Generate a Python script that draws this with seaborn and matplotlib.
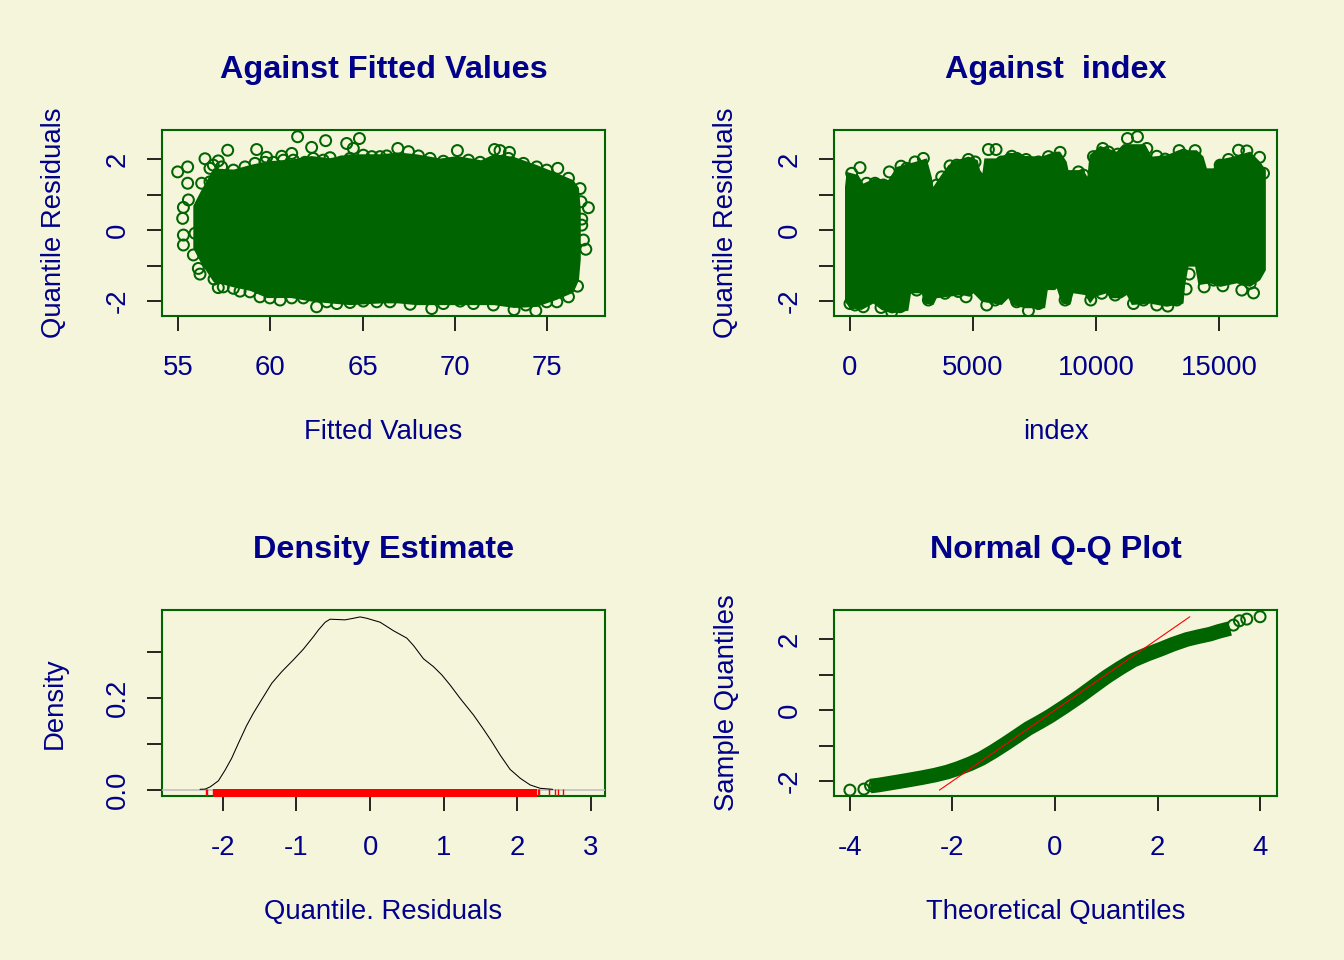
import numpy as np
import pandas as pd
import matplotlib
matplotlib.use("Agg")
import matplotlib.pyplot as plt
import seaborn as sns

# fitted panel: outline of the solid mass, then the circles on and around its rim
fit_top_x = [55.8, 56.2, 56.9, 58.0, 58.9, 59.8, 61.1, 62.2, 63.2, 64.3, 66.0, 66.9, 67.9, 69.2, 70.1,
             71.4, 72.1, 73.2, 74.4, 75.5, 76.4, 76.7, 76.8]
fit_top_y = [0.7, 1.1, 1.75, 1.72, 1.85, 1.95, 2.0, 2.1, 2.04, 2.15, 2.15, 2.2, 2.15, 2.03, 2.1,
             1.98, 2.15, 2.07, 1.85, 1.62, 1.42, 1.2, 0.6]
fit_low_y = [-0.5, -0.9, -1.45, -1.6, -1.7, -1.9, -1.9, -2.0, -2.05, -2.1, -2.05, -2.05, -2.1, -2.1, -2.1,
             -2.1, -2.1, -2.18, -2.15, -1.95, -1.75, -1.4, -0.8]
fit_pts_x = [61.48, 63.0, 64.14, 64.83, 57.69, 59.26, 56.46, 55.52, 54.98, 62.24, 64.5, 56.73, 55.52, 56.28, 56.73,
             55.56, 55.29, 55.25, 55.29, 55.29, 55.83, 56.1, 56.19, 56.95, 57.18, 58.36, 62.51, 61.16, 59.8, 60.62,
             57.18, 55.92, 66.91, 67.49, 70.14, 72.15, 72.45, 72.96, 75.58, 76.79, 76.84, 77.24, 76.88, 76.88, 76.97,
             77.1, 76.65, 76.16, 75.53, 73.21, 74.39, 73.85, 72.09, 68.75,
             56.91, 57.36, 58.0, 58.63, 59.17, 59.71, 60.16, 60.71, 61.25, 61.88, 62.33, 62.87, 63.24, 63.87, 64.32,
             65.04, 65.5, 65.95, 66.31, 68.03, 68.66, 69.38, 70.74, 71.37, 72.91, 73.72, 74.44, 74.98, 76.16,
             57.45, 58.0, 58.9, 59.44, 59.98, 60.53, 61.16, 61.79, 63.06, 63.6, 64.32, 65.04, 65.77, 66.49, 67.58,
             69.38, 70.29, 71.01, 74.98]
fit_pts_y = [2.63, 2.52, 2.44, 2.58, 2.25, 2.27, 2.01, 1.78, 1.64, 2.33, 2.30, 1.74, 1.32, 1.32, 1.36,
             0.85, 0.64, 0.33, -0.14, -0.42, -0.70, -1.08, -1.24, -1.38, -1.62, -1.72, -2.16, 2.16, 2.05, 2.08,
             1.95, -0.09, 2.30, 2.21, 2.24, 2.27, 2.24, 2.19, 1.74, 1.17, 0.80, 0.63, 0.31, 0.14, -0.28,
             -0.54, -1.58, -1.88, -2.02, -2.24, -2.27, -2.11, -2.11, -2.21,
             1.83, 1.78, 1.69, 1.78, 1.88, 1.91, 1.91, 1.97, 1.97, 1.91, 2.02, 1.97, 2.04, 1.92, 2.02,
             2.11, 2.07, 2.07, 2.09, 2.09, 2.02, 1.94, 1.97, 1.91, 2.02, 1.88, 1.78, 1.69, 1.46,
             -1.60, -1.64, -1.74, -1.88, -1.91, -1.97, -1.91, -1.91, -2.02, -2.07, -2.04, -2.0, -2.02, -2.02, -2.09,
             -2.07, -2.0, -2.07, -2.02]

# index panel
idx_top_x = [-203, -135, 339, 542, 1016, 1559, 1897, 2642, 3117, 3320, 3388, 3659, 3998, 4336, 4811, 5190, 5285,
             5380, 5461, 6030, 6437, 6843, 7114, 7792, 8334, 8537, 8807, 8875, 9485, 9648, 9729, 10162, 10840,
             11003, 11111, 11992, 12263, 12873, 13347, 14092, 14363, 14499, 14770, 14905, 15583, 16260, 16667, 16897]
idx_top_y = [1.22, 1.64, 1.55, 1.31, 1.46, 1.41, 1.78, 1.92, 2.02, 1.50, 1.22, 1.50, 1.83, 1.97, 2.07, 1.97, 1.69,
             1.60, 2.02, 2.02, 2.18, 2.16, 2.09, 2.07, 2.21, 2.21, 1.92, 1.69, 1.69, 1.50, 2.11, 2.37, 2.21,
             2.35, 2.42, 2.42, 2.07, 2.11, 2.25, 2.25, 2.07, 1.74, 1.74, 1.97, 2.07, 2.21, 1.92, 1.69]
idx_low_x = [-203, 0, 475, 949, 1288, 1694, 2371, 2480, 2914, 3008, 3388, 3523, 4540, 4878, 5014, 5353, 6166, 6437,
             6572, 7114, 7927, 8035, 8334, 8401, 8604, 8943, 9079, 9553, 9756, 9959, 10434, 10569, 11043, 11246,
             11450, 12195, 12873, 13550, 13618, 13753, 14024, 14160, 14634, 15041, 15718, 16260, 16667, 16897]
idx_low_y = [-2.02, -2.2, -2.25, -2.07, -2.25, -2.35, -2.27, -1.78, -1.78, -2.07, -2.11, -1.92, -1.83, -1.88, -1.78,
             -2.02, -2.11, -1.92, -2.11, -2.2, -2.2, -1.69, -1.69, -1.64, -2.07, -2.11, -1.78, -1.83, -2.07, -1.88,
             -1.78, -1.92, -1.92, -1.83, -2.11, -2.07, -2.16, -2.07, -1.55, -1.03, -1.03, -1.55, -1.50, -1.60, -1.50,
             -1.60, -1.41, -1.13]
idx_pts_x = [407, 68, 1599, 2073, 2981, 2642, 4065, 3727, 3523, 5624, 5935, 4811, 6572, 7155, 7250, 5556, 4716, 1694,
             1260, 542, 0, 2710, 11680, 11274, 8537, 9282, 10271, 10881, 12466, 13374, 14024, 15786, 16125, 16640,
             15379, 13780, 13658, 14390, 15149, 15921, 16395, 9783, 11518, 12466, 12913, 10230,
             678, 1016, 1355, 2304, 4336, 5082, 6166, 6775, 7656, 8063, 9485, 9892, 10501, 12060, 12805, 13550,
             15041, 16802, 204, 2033, 3185, 3862, 4404, 5895, 6775, 7656, 8740, 10772, 11924, 13279, 14770, 16260]
idx_pts_y = [1.76, 1.6, 1.64, 1.80, 2.02, 1.92, 1.81, 1.50, 1.27, 2.27, 2.27, 1.99, 2.08, 1.99, -2.27, -2.11, -1.88,
             -2.30, -2.18, -2.16, -2.07, -1.69, 2.63, 2.58, 2.19, 1.64, 2.30, 2.14, 2.08, 2.24, 2.24, 2.25, 2.23, 2.05,
             1.99, -1.24, -1.66, -1.60, -1.57, -1.69, -1.77, -1.97, -2.07, -2.11, -2.14, -1.78,
             1.32, 1.32, 1.27, 1.74, 1.83, 1.92, 1.92, 2.02, 1.92, 2.07, 1.55, 2.07, 2.2, 2.30, 2.0, 2.11,
             1.83, 1.60, -2.11, -2.16, -1.97, -1.78, -1.73, -1.97, -2.02, -2.07, -1.97, -1.83, -1.97, -1.97, -1.41, -1.50]

# density panel
dens_x = [-2.31, -2.24, -2.17, -2.06, -1.97, -1.88, -1.79, -1.68, -1.585, -1.47, -1.335, -1.20, -1.04, -0.906, -0.77,
          -0.70, -0.61, -0.543, -0.34, -0.227, -0.136, -0.045, 0.136, 0.317, 0.498, 0.589, 0.725, 0.86, 0.974, 1.087,
          1.223, 1.404, 1.54, 1.653, 1.766, 1.90, 2.04, 2.174, 2.31, 2.48]
dens_y = [0.0015, 0.002, 0.007, 0.020, 0.043, 0.069, 0.101, 0.139, 0.167, 0.197, 0.232, 0.257, 0.283, 0.306, 0.333,
          0.348, 0.3645, 0.371, 0.3696, 0.373, 0.376, 0.373, 0.3645, 0.346, 0.330, 0.314, 0.285, 0.268, 0.25, 0.228,
          0.199, 0.163, 0.132, 0.105, 0.076, 0.045, 0.0254, 0.011, 0.0037, 0.0015]
rug_body = [-2.128, 2.265]
rug_ticks = [-2.232, -2.21, -2.137, 2.278, 2.30, 2.423, 2.505, 2.546, 2.613]

# qq panel
qq_x = [-3.6, -3.448, -3.1, -2.862, -2.6, -2.34, -2.1, -1.886, -1.65, -1.431, -1.2, -0.976, -0.75, -0.52, -0.3, -0.098,
        0.2, 0.488, 0.75, 1.008, 1.27, 1.528, 1.8, 2.049, 2.3, 2.57, 2.8, 3.024, 3.2, 3.415]
qq_y = [-2.14, -2.113, -2.03, -1.972, -1.905, -1.831, -1.745, -1.643, -1.51, -1.362, -1.165, -0.958, -0.74, -0.516,
        -0.34, -0.17, 0.11, 0.394, 0.67, 0.94, 1.185, 1.408, 1.575, 1.709, 1.855, 1.99, 2.07, 2.14, 2.22, 2.30]
qq_pts_x = [-4.0, -3.727, -3.597, -3.512, -3.415, 3.48, 3.597, 3.74, 4.0]
qq_pts_y = [-2.254, -2.225, -2.132, -2.12, -2.094, 2.394, 2.516, 2.563, 2.63]
qq_ref = [-2.254, 2.63]

BG = "#F5F5DC"
GREEN = "#006400"
BLUE = "#00008B"

sns.set_theme(style="ticks", rc={"figure.facecolor": BG, "axes.facecolor": BG, "savefig.facecolor": BG})
plt.rcParams["font.family"] = ["Liberation Sans", "DejaVu Sans"]

W, H = 1344, 960
fig = plt.figure(figsize=(W / 100, H / 100), dpi=100)


def panel(x0, x1, y0, y1, xlim, ylim, title, xlabel, ylabel, xticks, yticks, ylabels):
    ax = fig.add_axes([x0 / W, 1 - y1 / H, (x1 - x0) / W, (y1 - y0) / H])
    ax.set_xlim(xlim)
    ax.set_ylim(ylim)
    ax.set_xticks(xticks)
    ax.set_xticklabels([str(t) for t in xticks])
    ax.set_yticks(yticks)
    ax.set_yticklabels(ylabels, rotation=90, va="center")
    ax.tick_params(length=10.5, width=1.2, color="black", labelcolor=BLUE, labelsize=19.8)
    ax.tick_params(axis="x", pad=17.3)
    ax.tick_params(axis="y", pad=12)
    for s in ax.spines.values():
        s.set_color(GREEN)
        s.set_linewidth(1.5)
    ax.set_title(title, color=BLUE, fontsize=23.3, fontweight="bold", pad=0, y=1.28)
    ax.set_xlabel(xlabel, color=BLUE, fontsize=19.8)
    ax.set_ylabel(ylabel, color=BLUE, fontsize=19.8)
    ax.xaxis.set_label_coords(0.5, -0.555)
    ax.yaxis.set_label_coords(-94.5 / (x1 - x0), 0.5)
    return ax


def rings(ax, x, y):
    sns.scatterplot(x=x, y=y, ax=ax, s=62, marker="o", facecolor="none", edgecolor=GREEN, linewidth=1.45,
                    zorder=3)


res_ticks = [-2, -1, 0, 1, 2]
res_labels = ["-2", "", "0", "", "2"]

ax1 = panel(162, 605, 130, 316, (54.13, 78.14), (-2.42, 2.82), "Against Fitted Values", "Fitted Values",
            "Quantile Residuals", [55, 60, 65, 70, 75], res_ticks, res_labels)
ax1.fill_between(fit_top_x, fit_low_y, fit_top_y, color=GREEN, lw=0)
rings(ax1, fit_pts_x, fit_pts_y)

ax2 = panel(834, 1277, 130, 316, (-650, 17350), (-2.42, 2.82), "Against  index", "index",
            "Quantile Residuals", [0, 5000, 10000, 15000], res_ticks, res_labels)
ax2.fill(idx_top_x + idx_low_x[::-1], idx_top_y + idx_low_y[::-1], color=GREEN, lw=0)
rings(ax2, idx_pts_x, idx_pts_y)

ax3 = panel(162, 605, 610, 796, (-2.826, 3.19), (-0.013, 0.391), "Density Estimate", "Quantile. Residuals",
            "Density", [-2, -1, 0, 1, 2, 3], [0, 0.1, 0.2, 0.3], ["0.0", "", "0.2", ""])
ax3.axhline(0, color="#BEBEBE", lw=1.1, zorder=3)
ax3.axvspan(rug_body[0], rug_body[1], ymin=-0.005, ymax=0.036, color="red", lw=0, zorder=3, clip_on=False)
sns.rugplot(x=rug_ticks, ax=ax3, height=0.036, color="red", lw=0.8, zorder=3)
sns.lineplot(x=dens_x, y=dens_y, ax=ax3, color="black", lw=0.75, zorder=4, sort=False)

ax4 = panel(834, 1277, 610, 796, (-4.31, 4.33), (-2.42, 2.82), "Normal Q-Q Plot", "Theoretical Quantiles",
            "Sample Quantiles", [-4, -2, 0, 2, 4], res_ticks, res_labels)
band = pd.DataFrame({"theoretical": qq_x, "sample": qq_y})
sns.lineplot(data=band, x="theoretical", y="sample", ax=ax4, color=GREEN, lw=10.5, solid_capstyle="butt",
             solid_joinstyle="round", sort=False)
rings(ax4, qq_pts_x, qq_pts_y)
sns.lineplot(x=qq_ref, y=qq_ref, ax=ax4, color="red", lw=0.8, zorder=5)
ax4.set_xlabel("Theoretical Quantiles", color=BLUE, fontsize=19.8)
ax4.set_ylabel("Sample Quantiles", color=BLUE, fontsize=19.8)

fig.savefig("out.png", dpi=100)
